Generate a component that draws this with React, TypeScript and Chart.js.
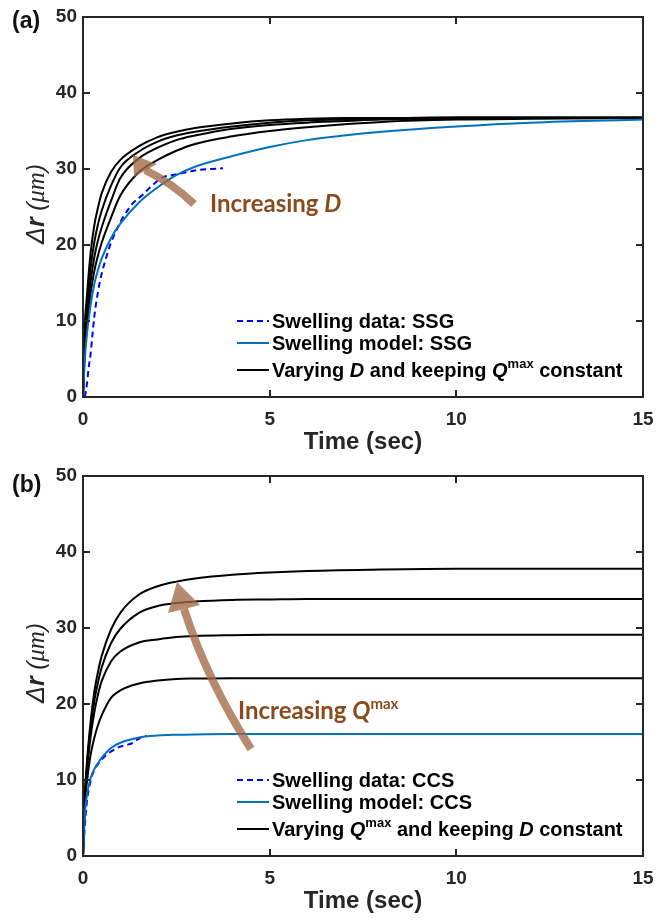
import React, { useEffect, useRef } from "react";
import { Chart, registerables } from "chart.js";

Chart.register(...registerables);

// ---------------- data ----------------
const xTicks = [0, 5, 10, 15];
const yTicks = [0, 10, 20, 30, 40, 50];

// Panel (a): SSG
const timeA = [0, 0.05, 0.1, 0.2, 0.3, 0.4, 0.5, 0.75, 1, 1.5, 2, 2.5, 3, 4, 5, 6, 7, 8, 10, 12, 15];
const ssgModel = [0, 5.0, 8.0, 12.0, 14.8, 16.7, 18.2, 20.9, 22.8, 25.6, 27.6, 29.2, 30.3, 31.7, 32.9, 33.8, 34.4, 34.9, 35.6, 36.1, 36.5];
const ssgVaryD1 = [0, 9.5, 13.0, 18.8, 22.5, 24.9, 26.8, 29.6, 31.2, 33.0, 34.2, 34.9, 35.4, 36.0, 36.4, 36.6, 36.7, 36.7, 36.8, 36.8, 36.8];
const ssgVaryD2 = [0, 7.5, 11.2, 16.8, 20.3, 22.7, 24.5, 27.8, 30.2, 32.3, 33.6, 34.4, 34.9, 35.6, 36.1, 36.4, 36.5, 36.6, 36.7, 36.7, 36.7];
const ssgVaryD3 = [0, 6.8, 10.0, 15.0, 18.3, 20.6, 22.3, 25.8, 28.8, 31.4, 32.8, 33.8, 34.4, 35.3, 35.8, 36.1, 36.3, 36.5, 36.6, 36.7, 36.7];
const ssgVaryD4 = [0, 6.0, 8.8, 13.5, 16.5, 18.6, 20.3, 23.6, 26.5, 29.6, 31.2, 32.4, 33.3, 34.3, 35.0, 35.5, 35.9, 36.2, 36.5, 36.6, 36.7];
const ssgDataTime = [0.05, 0.1, 0.15, 0.2, 0.25, 0.3, 0.4, 0.5, 0.6, 0.75, 0.9, 1.08, 1.34, 1.6, 1.8, 2.14, 2.41, 2.7, 3.13, 3.45, 3.75];
const ssgDataValues = [0, 1.5, 3.8, 5.5, 8.0, 10.5, 13.8, 16.2, 18.0, 20.3, 22.0, 23.7, 25.5, 26.6, 27.6, 28.9, 29.2, 29.5, 29.9, 30.0, 30.1];

// Panel (b): CCS
const timeB = [0, 0.05, 0.1, 0.2, 0.3, 0.4, 0.5, 0.75, 1, 1.5, 2, 2.5, 3, 4, 5, 6, 8, 10, 12, 15];
const ccsModel = [0, 5.5, 7.8, 10.2, 11.4, 12.2, 12.9, 14.2, 14.9, 15.6, 15.85, 15.95, 16.0, 16.05, 16.05, 16.05, 16.05, 16.05, 16.05, 16.05];
const ccsVaryQ1 = [0, 8.0, 12.0, 17.5, 21.5, 24.2, 26.3, 29.8, 32.0, 34.4, 35.5, 36.1, 36.5, 37.0, 37.3, 37.5, 37.7, 37.8, 37.8, 37.8];
const ccsVaryQ2 = [0, 7.8, 11.5, 16.8, 20.3, 22.8, 24.8, 28.0, 29.9, 32.0, 32.9, 33.3, 33.5, 33.7, 33.75, 33.8, 33.8, 33.8, 33.8, 33.8];
const ccsVaryQ3 = [0, 7.2, 10.8, 15.5, 18.8, 21.2, 23.0, 25.6, 26.9, 28.1, 28.5, 28.8, 28.95, 29.05, 29.1, 29.1, 29.1, 29.1, 29.1, 29.1];
const ccsVaryQ4 = [0, 6.5, 9.5, 13.2, 15.5, 17.2, 18.5, 20.8, 21.8, 22.7, 23.1, 23.3, 23.35, 23.4, 23.4, 23.4, 23.4, 23.4, 23.4, 23.4];
const ccsDataTime = [0, 0.05, 0.1, 0.2, 0.3, 0.45, 0.6, 0.8, 1.0, 1.15, 1.3, 1.45, 1.6, 1.7];
const ccsDataValues = [0, 4.0, 7.0, 9.8, 11.3, 12.4, 13.2, 13.9, 14.4, 14.6, 14.8, 15.3, 15.7, 15.8];

// ---------------- styles ----------------
const INK = "#262626";
const MODEL_BLUE = "#0072BD";
const DATA_BLUE = "#0000FF";
const ARROW = "rgba(160,105,70,0.78)";
const ANNOT = "#8a4a1c";
const SANS = '"Liberation Sans", Arial, sans-serif';

const W = 659;

type Seg = { t: string; f: string; dy?: number };

function drawRich(ctx: CanvasRenderingContext2D, x: number, y: number, segs: Seg[], color: string) {
  ctx.fillStyle = color;
  ctx.textBaseline = "alphabetic";
  ctx.textAlign = "left";
  let cx = x;
  for (const s of segs) {
    ctx.font = s.f;
    ctx.fillText(s.t, cx, y + (s.dy || 0));
    cx += ctx.measureText(s.t).width;
  }
}

function richWidth(ctx: CanvasRenderingContext2D, segs: Seg[]) {
  let w = 0;
  for (const s of segs) {
    ctx.font = s.f;
    w += ctx.measureText(s.t).width;
  }
  return w;
}

const pts = (xs: number[], ys: number[]) => xs.map((x, i) => ({ x, y: ys[i] }));

type PanelCfg = {
  height: number;
  padTop: number;
  xAxisH: number;
  labelDy: number;
  model: { x: number; y: number }[];
  data: { x: number; y: number }[];
  vary: { x: number; y: number }[][];
  label: string;
  legend: Seg[][];
  annot: Seg[];
  annotPos: [number, number];
  arrow: { tail: [number, number]; ctrl: [number, number]; base: [number, number]; tip: [number, number]; c1: [number, number]; c2: [number, number] };
};

const LF = `bold 20px ${SANS}`;
const LFI = `italic bold 20px ${SANS}`;
const LFS = `bold 13px ${SANS}`;
const AF = `bold 24px Lato, "Open Sans", sans-serif`;
const AFI = `italic bold 24px Lato, "Open Sans", sans-serif`;
const AFS = `bold 15px Lato, "Open Sans", sans-serif`;

const panelA: PanelCfg = {
  height: 461,
  padTop: 17,
  xAxisH: 64,
  labelDy: 5,
  model: pts(timeA, ssgModel),
  data: pts(ssgDataTime, ssgDataValues),
  vary: [ssgVaryD1, ssgVaryD2, ssgVaryD3, ssgVaryD4].map((v) => pts(timeA, v)),
  label: "(a)",
  legend: [
    [{ t: "Swelling data: SSG", f: LF }],
    [{ t: "Swelling model: SSG", f: LF }],
    [
      { t: "Varying ", f: LF },
      { t: "D", f: LFI },
      { t: " and keeping ", f: LF },
      { t: "Q", f: LFI },
      { t: "max", f: LFS, dy: -9 },
      { t: " constant", f: LF },
    ],
  ],
  annot: [
    { t: "Increasing ", f: AF },
    { t: "D", f: AFI },
  ],
  annotPos: [210, 212],
  arrow: { tail: [194, 204], ctrl: [172, 183], base: [145, 170], tip: [133, 155], c1: [134, 177], c2: [157, 164] },
};

const panelB: PanelCfg = {
  height: 462,
  padTop: 15,
  xAxisH: 67,
  labelDy: 10,
  model: pts(timeB, ccsModel),
  data: pts(ccsDataTime, ccsDataValues),
  vary: [ccsVaryQ1, ccsVaryQ2, ccsVaryQ3, ccsVaryQ4].map((v) => pts(timeB, v)),
  label: "(b)",
  legend: [
    [{ t: "Swelling data: CCS", f: LF }],
    [{ t: "Swelling model: CCS", f: LF }],
    [
      { t: "Varying ", f: LF },
      { t: "Q", f: LFI },
      { t: "max", f: LFS, dy: -9 },
      { t: " and keeping ", f: LF },
      { t: "D", f: LFI },
      { t: " constant", f: LF },
    ],
  ],
  annot: [
    { t: "Increasing ", f: AF },
    { t: "Q", f: AFI },
    { t: "max", f: AFS, dy: -10 },
  ],
  annotPos: [238, 258],
  arrow: { tail: [251, 288], ctrl: [207, 219], base: [184, 148], tip: [177, 121], c1: [168, 152], c2: [200, 144] },
};

function makeConfig(p: PanelCfg): any {
  const lineBase = {
    pointRadius: 0,
    borderWidth: 2,
    fill: false,
    cubicInterpolationMode: "monotone",
  };
  const datasets: any[] = [
    { ...lineBase, label: "model", data: p.model, borderColor: MODEL_BLUE },
    { ...lineBase, label: "data", data: p.data, borderColor: DATA_BLUE, borderDash: [6, 4] },
    ...p.vary.map((d, i) => ({ ...lineBase, label: "vary" + i, data: d, borderColor: "#000000" })),
  ];

  const plugin = {
    id: "decor" + p.label,
    afterDraw(chart: any) {
      const ctx: CanvasRenderingContext2D = chart.ctx;
      const a = chart.chartArea;
      const xs = chart.scales.x;
      const ys = chart.scales.y;
      ctx.save();

      // arrow
      const ar = p.arrow;
      ctx.strokeStyle = ARROW;
      ctx.fillStyle = ARROW;
      ctx.lineWidth = 8;
      ctx.lineCap = "butt";
      ctx.beginPath();
      ctx.moveTo(ar.tail[0], ar.tail[1]);
      ctx.quadraticCurveTo(ar.ctrl[0], ar.ctrl[1], ar.base[0], ar.base[1]);
      ctx.stroke();
      ctx.beginPath();
      ctx.moveTo(ar.tip[0], ar.tip[1]);
      ctx.lineTo(ar.c1[0], ar.c1[1]);
      ctx.lineTo(ar.c2[0], ar.c2[1]);
      ctx.closePath();
      ctx.fill();

      // annotation text
      drawRich(ctx, p.annotPos[0], p.annotPos[1], p.annot, ANNOT);

      // frame
      ctx.strokeStyle = INK;
      ctx.lineWidth = 2;
      ctx.lineCap = "square";
      ctx.strokeRect(a.left, a.top, a.right - a.left, a.bottom - a.top);
      const tl = 7;
      ctx.beginPath();
      for (const v of xTicks) {
        const px = Math.round(xs.getPixelForValue(v));
        if (px <= a.left + 1 || px >= a.right - 1) continue;
        ctx.moveTo(px, a.bottom);
        ctx.lineTo(px, a.bottom - tl);
        ctx.moveTo(px, a.top);
        ctx.lineTo(px, a.top + tl);
      }
      for (const v of yTicks) {
        const py = Math.round(ys.getPixelForValue(v));
        if (py <= a.top + 1 || py >= a.bottom - 1) continue;
        ctx.moveTo(a.left, py);
        ctx.lineTo(a.left + tl, py);
        ctx.moveTo(a.right, py);
        ctx.lineTo(a.right - tl, py);
      }
      ctx.lineCap = "butt";
      ctx.stroke();

      // x title
      ctx.fillStyle = INK;
      ctx.font = `bold 24px ${SANS}`;
      ctx.textAlign = "center";
      ctx.textBaseline = "middle";
      ctx.fillText("Time (sec)", (a.left + a.right) / 2, a.bottom + 45);

      // y title (rotated, mixed styles)
      const ysegs: Seg[] = [
        { t: "Δ", f: `italic 25px ${SANS}` },
        { t: "r", f: `italic bold 25px ${SANS}` },
        { t: " (", f: `italic 24px ${SANS}` },
        { t: "μm", f: `italic 25px "Liberation Serif", serif` },
        { t: ")", f: `italic 24px ${SANS}` },
      ];
      ctx.save();
      ctx.translate(35, (a.top + a.bottom) / 2 - 3);
      ctx.rotate(-Math.PI / 2);
      const yw = richWidth(ctx, ysegs);
      drawRich(ctx, -yw / 2, 9, ysegs, INK);
      ctx.restore();

      // panel label
      ctx.fillStyle = "#111";
      ctx.font = `bold 23px ${SANS}`;
      ctx.textAlign = "left";
      ctx.textBaseline = "middle";
      ctx.fillText(p.label, 12, a.top + p.labelDy);

      // legend
      const rows = [a.top + 304, a.top + 326, a.top + 353];
      const lx0 = 237;
      const lx1 = 269;
      const styles = [
        { c: DATA_BLUE, d: [6, 4] },
        { c: MODEL_BLUE, d: [] as number[] },
        { c: "#000000", d: [] as number[] },
      ];
      rows.forEach((ry, i) => {
        ctx.strokeStyle = styles[i].c;
        ctx.lineWidth = 2;
        ctx.setLineDash(styles[i].d);
        ctx.beginPath();
        ctx.moveTo(lx0, ry);
        ctx.lineTo(lx1, ry);
        ctx.stroke();
        ctx.setLineDash([]);
        drawRich(ctx, lx1 + 3, ry + 7, p.legend[i], "#000000");
      });

      ctx.restore();
    },
  };

  return {
    type: "line",
    data: { datasets },
    plugins: [plugin],
    options: {
      animation: false,
      responsive: false,
      devicePixelRatio: 1,
      events: [],
      layout: { padding: { left: 0, right: 16, top: p.padTop, bottom: 0 } },
      plugins: { legend: { display: false }, tooltip: { enabled: false }, title: { display: false } },
      scales: {
        x: {
          type: "linear",
          min: 0,
          max: 15,
          grid: { display: false, drawTicks: false },
          border: { display: false },
          ticks: {
            stepSize: 5,
            autoSkip: false,
            maxRotation: 0,
            padding: 11,
            color: INK,
            font: { family: SANS, size: 19, weight: "bold" },
          },
          afterFit: (s: any) => {
            s.height = p.xAxisH;
            s.paddingLeft = 0;
            s.paddingRight = 0;
          },
        },
        y: {
          type: "linear",
          min: 0,
          max: 50,
          grid: { display: false, drawTicks: false },
          border: { display: false },
          ticks: {
            stepSize: 10,
            autoSkip: false,
            padding: 6,
            color: INK,
            font: { family: SANS, size: 19, weight: "bold" },
          },
          afterFit: (s: any) => {
            s.width = 83;
            s.paddingTop = 0;
            s.paddingBottom = 0;
          },
        },
      },
    },
  };
}

function Panel({ cfg, top }: { cfg: PanelCfg; top: number }) {
  const ref = useRef<HTMLCanvasElement | null>(null);
  useEffect(() => {
    if (!ref.current) return;
    const chart = new Chart(ref.current, makeConfig(cfg));
    return () => chart.destroy();
  }, [cfg]);
  return (
    <canvas
      ref={ref}
      width={W}
      height={cfg.height}
      style={{ position: "absolute", left: 0, top, width: W, height: cfg.height, display: "block" }}
    />
  );
}

export default function App() {
  return (
    <div style={{ position: "absolute", left: 0, top: 0, width: W, height: 923, background: "#ffffff" }}>
      <Panel cfg={panelA} top={0} />
      <Panel cfg={panelB} top={461} />
    </div>
  );
}
